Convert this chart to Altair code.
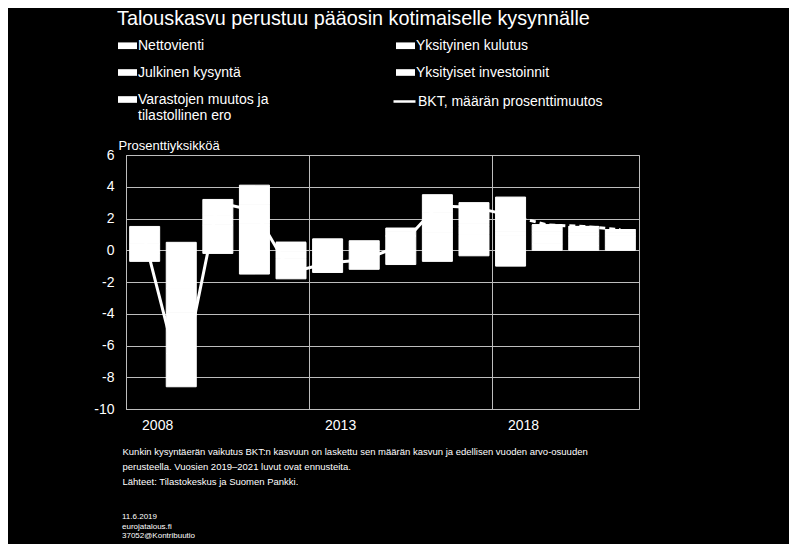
import altair as alt
import pandas as pd

FONT = "Liberation Sans"
GRID = "#bdbdbd"

title_text = "Talouskasvu perustuu pääosin kotimaiselle kysynnälle"
y_title = "Prosenttiyksikköä"
footnote_lines = [
    "Kunkin kysyntäerän vaikutus BKT:n kasvuun on laskettu sen määrän kasvun ja edellisen vuoden arvo-osuuden",
    "perusteella. Vuosien 2019–2021 luvut ovat ennusteita.",
    "Lähteet: Tilastokeskus ja Suomen Pankki.",
]
credit_lines = ["11.6.2019", "eurojatalous.fi", "37052@Kontribuutio"]

years = [2008, 2009, 2010, 2011, 2012, 2013, 2014, 2015, 2016, 2017, 2018, 2019, 2020, 2021]
x_label_years = [2008, 2013, 2018]
components = [
    "Nettovienti",
    "Yksityinen kulutus",
    "Julkinen kysyntä",
    "Yksityiset investoinnit",
    "Varastojen muutos ja tilastollinen ero",
]
nettovienti = [0.4, -2.4, -0.2, -1.5, 0.5, 0.7, 0.3, -0.9, -0.7, 1.0, -1.0, 0.4, 0.3, 0.3]
yksityinen_kulutus = [0.9, -1.5, 1.6, 1.5, -0.1, -0.3, 0.1, 0.9, 1.1, 0.5, 0.9, 0.6, 0.6, 0.6]
julkinen_kysynta = [0.2, 0.5, 0.4, 0.2, 0.0, 0.0, 0.2, 0.0, 0.3, 0.2, 0.3, 0.2, 0.2, 0.2]
yksityiset_investoinnit = [-0.2, -2.6, 0.2, 1.2, -0.4, -0.6, -0.7, 0.3, 1.0, 1.3, 0.8, 0.4, 0.4, 0.2]
varastot = [-0.5, -2.1, 1.0, 1.2, -1.3, -0.5, -0.5, 0.2, 1.1, -0.35, 1.35, 0.0, 0.0, 0.0]
bkt = [0.7, -8.3, 3.0, 2.5, -1.4, -0.8, -0.6, 0.3, 2.8, 2.7, 2.2, 1.6, 1.5, 1.3]
bkt_name = "BKT, määrän prosenttimuutos"
last_actual_year = 2018

wide = pd.DataFrame({
    "Vuosi": years,
    components[0]: nettovienti,
    components[1]: yksityinen_kulutus,
    components[2]: julkinen_kysynta,
    components[3]: yksityiset_investoinnit,
    components[4]: varastot,
})
long = wide.melt(id_vars="Vuosi", var_name="Erä", value_name="Arvo")
long["idx"] = long["Erä"].map({c: i for i, c in enumerate(components)})

line_df = pd.DataFrame({"Vuosi": years, "Arvo": bkt, "Sarja": bkt_name})

x_enc = alt.X(
    "Vuosi:O",
    scale=alt.Scale(paddingInner=0.18, paddingOuter=0.1),
    axis=alt.Axis(
        values=x_label_years, labelOffset=13, bandPosition=-0.11,
        grid=True, gridColor=GRID, gridWidth=1, ticks=False, domain=False,
        labelAngle=0, labelColor="white", labelFontSize=14, labelFont=FONT, labelPadding=9,
        title=footnote_lines, titleX=-4, titleY=37, titleAnchor="start", titleAlign="left",
        titleBaseline="top", titleFontSize=9.5, titleFontWeight="normal", titleColor="white",
        titleLineHeight=15, titleFont=FONT,
    ),
)
y_axis = alt.Axis(
    values=list(range(-10, 7, 2)), grid=True, gridColor=GRID, gridWidth=1, ticks=False,
    domainColor=GRID, labelColor="white", labelFontSize=14, labelFont=FONT, labelPadding=12,
    labelExpr="'' + datum.value",
    title=y_title, titleAngle=0, titleAlign="left", titleBaseline="middle", titleX=-8, titleY=-10,
    titleFontSize=13, titleFontWeight="normal", titleColor="white", titleFont=FONT,
)
y_scale = alt.Scale(domain=[-10, 6], nice=False)

bars = alt.Chart(long).mark_bar(stroke="white", strokeWidth=1).encode(
    x=x_enc,
    y=alt.Y("Arvo:Q", scale=y_scale, axis=y_axis, stack="zero"),
    color=alt.Color(
        "Erä:N",
        scale=alt.Scale(domain=components, range=["white"] * len(components)),
        legend=alt.Legend(
            orient="none", legendX=-8, legendY=-119, columns=2, direction="horizontal",
            columnPadding=127, rowPadding=10, symbolType="M-1,-0.35H1V0.35H-1Z",
            symbolSize=361, symbolStrokeWidth=0, symbolOpacity=1, labelColor="white",
            labelFontSize=14, labelFont=FONT, labelOffset=1, labelLimit=400, title=None,
            labelExpr="datum.label == 'Varastojen muutos ja tilastollinen ero' ? ['Varastojen muutos ja', 'tilastollinen ero'] : datum.label",
        ),
    ),
    order=alt.Order("idx:Q"),
)

solid = alt.Chart(line_df).transform_filter(
    f"datum.Vuosi <= {last_actual_year}"
).mark_line(strokeWidth=3).encode(
    x=x_enc,
    y=alt.Y("Arvo:Q", scale=y_scale, axis=y_axis),
    stroke=alt.Stroke(
        "Sarja:N", scale=alt.Scale(range=["white"]),
        legend=alt.Legend(
            orient="none", legendX=266, legendY=-66, title=None, symbolType="stroke",
            symbolSize=484, symbolStrokeWidth=2.5, labelColor="white", labelFontSize=14,
            labelFont=FONT, labelOffset=1, labelLimit=400,
        ),
    ),
)

dashed = alt.Chart(line_df).transform_filter(
    f"datum.Vuosi >= {last_actual_year}"
).mark_line(strokeWidth=3, strokeDash=[6, 4], color="white").encode(
    x=x_enc,
    y=alt.Y("Arvo:Q", scale=y_scale, axis=y_axis),
)

credits = alt.Chart(alt.Data(values=[{"t": credit_lines}])).mark_text(
    align="left", baseline="top", fontSize=8, lineHeight=9.5, color="white", font=FONT
).encode(x=alt.value(-4), y=alt.value(358), text="t:N")

chart = alt.layer(dashed, solid, bars, credits).properties(
    width=513,
    height=254,
    autosize=alt.AutoSizeParams(type="none"),
    padding={"left": 118, "top": 147, "right": 150, "bottom": 135},
    title=alt.TitleParams(
        title_text, anchor="start", frame="group", fontSize=19.8, fontWeight="normal",
        color="white", font=FONT, dx=-9, offset=7,
    ),
).configure(background="black").configure_view(stroke=GRID, strokeWidth=1)

chart.save("out.html", embed_options={"renderer": "svg", "actions": False})
